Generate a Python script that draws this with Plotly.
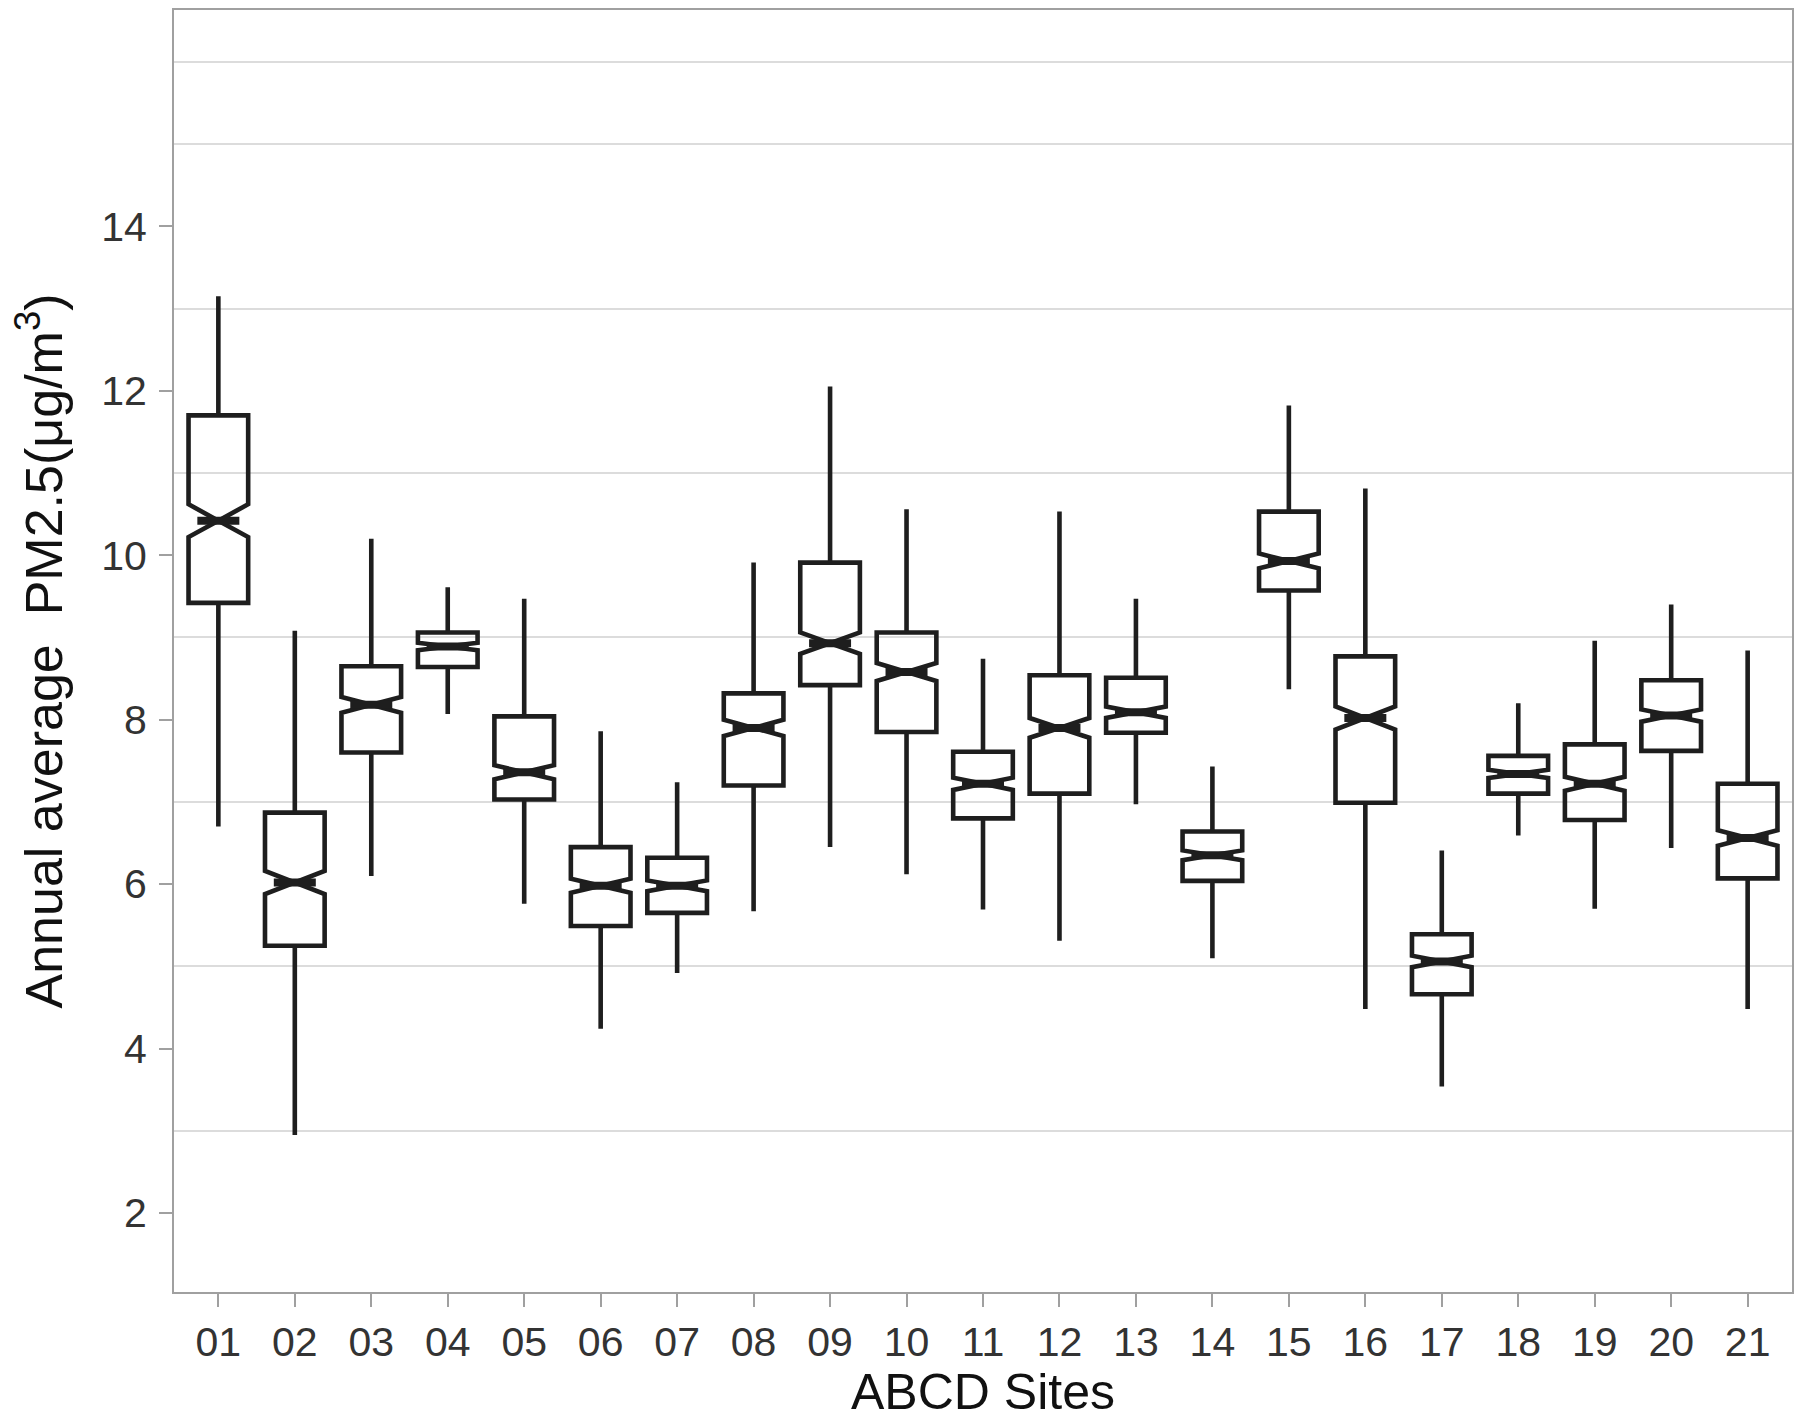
import plotly.graph_objects as go

sites = ["01", "02", "03", "04", "05", "06", "07", "08", "09", "10", "11",
         "12", "13", "14", "15", "16", "17", "18", "19", "20", "21"]
upper_whisker = [13.15, 9.08, 10.20, 9.61, 9.47, 7.86, 7.24, 9.91, 12.05, 10.56, 8.74,
                 10.53, 9.47, 7.43, 11.82, 10.81, 6.41, 8.20, 8.96, 9.40, 8.84]
q3_values = [11.70, 6.87, 8.65, 9.06, 8.04, 6.45, 6.32, 8.32, 9.91, 9.06, 7.61,
             8.54, 8.51, 6.64, 10.53, 8.77, 5.39, 7.56, 7.70, 8.48, 7.22]
median_values = [10.42, 6.02, 8.18, 8.89, 7.36, 5.98, 5.98, 7.90, 8.93, 8.58, 7.22,
                 7.90, 8.09, 6.35, 9.93, 8.02, 5.06, 7.34, 7.22, 8.05, 6.56]
q1_values = [9.42, 5.25, 7.60, 8.64, 7.03, 5.49, 5.65, 7.20, 8.42, 7.85, 6.80,
             7.10, 7.84, 6.04, 9.57, 6.99, 4.66, 7.10, 6.78, 7.62, 6.07]
lower_whisker = [6.70, 2.95, 6.10, 8.07, 5.76, 4.24, 4.92, 5.67, 6.45, 6.12, 5.69,
                 5.31, 6.97, 5.10, 8.37, 4.48, 3.54, 6.59, 5.70, 6.44, 4.48]
notch_span = [0.20, 0.14, 0.095, 0.045, 0.085, 0.085, 0.065, 0.10, 0.13, 0.11, 0.075,
              0.12, 0.07, 0.06, 0.09, 0.14, 0.07, 0.05, 0.085, 0.075, 0.095]

y_tick_vals = [2, 4, 6, 8, 10, 12, 14]
y_grid_vals = [3, 5, 7, 9, 11, 13, 15, 16]

INK = "#1e1e1e"
AXIS_GREY = "#a0a0a0"
FONT = "Liberation Sans, Arial, sans-serif"

fig = go.Figure()
fig.add_trace(go.Box(
    x=sites,
    q1=q1_values,
    median=median_values,
    q3=q3_values,
    lowerfence=lower_whisker,
    upperfence=upper_whisker,
    notchspan=notch_span,
    notched=True,
    notchwidth=0.5,
    width=0.78,
    whiskerwidth=0,
    boxpoints=False,
    fillcolor="rgba(255,255,255,0)",
    line=dict(color=INK, width=4.6),
    showlegend=False,
))
# thicker median segment
fig.add_trace(go.Scatter(
    x=sites,
    y=median_values,
    mode="markers",
    marker=dict(symbol="line-ew", size=30, color=INK,
                line=dict(color=INK, width=8)),
    showlegend=False,
    hoverinfo="skip",
))

fig.update_layout(
    width=1800,
    height=1420,
    margin=dict(l=174, r=8, t=10, b=128),
    paper_bgcolor="white",
    plot_bgcolor="white",
    font=dict(family=FONT, color="#333333"),
    xaxis=dict(
        type="category",
        automargin=False,
        range=[-0.58, 20.58],
        showgrid=False,
        showline=True,
        linecolor=AXIS_GREY,
        linewidth=2,
        mirror=True,
        ticks="outside",
        ticklen=13,
        tickwidth=2,
        tickcolor=AXIS_GREY,
        tickfont=dict(size=41, color="#333333", family=FONT),
        title=dict(text="ABCD Sites", font=dict(size=50, color="#111111", family=FONT),
                   standoff=19),
        zeroline=False,
    ),
    yaxis=dict(
        automargin=False,
        range=[1.04, 16.63],
        tickvals=y_tick_vals,
        ticktext=[str(v) for v in y_tick_vals],
        showgrid=False,
        showline=True,
        linecolor=AXIS_GREY,
        linewidth=2,
        mirror=True,
        ticks="outside",
        ticklen=13,
        tickwidth=2,
        tickcolor=AXIS_GREY,
        ticklabelstandoff=4,
        tickfont=dict(size=41, color="#333333", family=FONT),
        title=dict(text="Annual average  PM2.5(μg/m<sup>3</sup>)",
                   font=dict(size=52, color="#111111", family=FONT), standoff=22),
        zeroline=False,
        minor=dict(tickvals=y_grid_vals, showgrid=True, gridcolor="#dcdcdc",
                   gridwidth=1.6, ticks=""),
    ),
)

fig.write_html(
    "out.html",
    config={"displayModeBar": False},
    post_script="document.body.style.margin='0px';document.body.style.overflow='hidden';",
)
